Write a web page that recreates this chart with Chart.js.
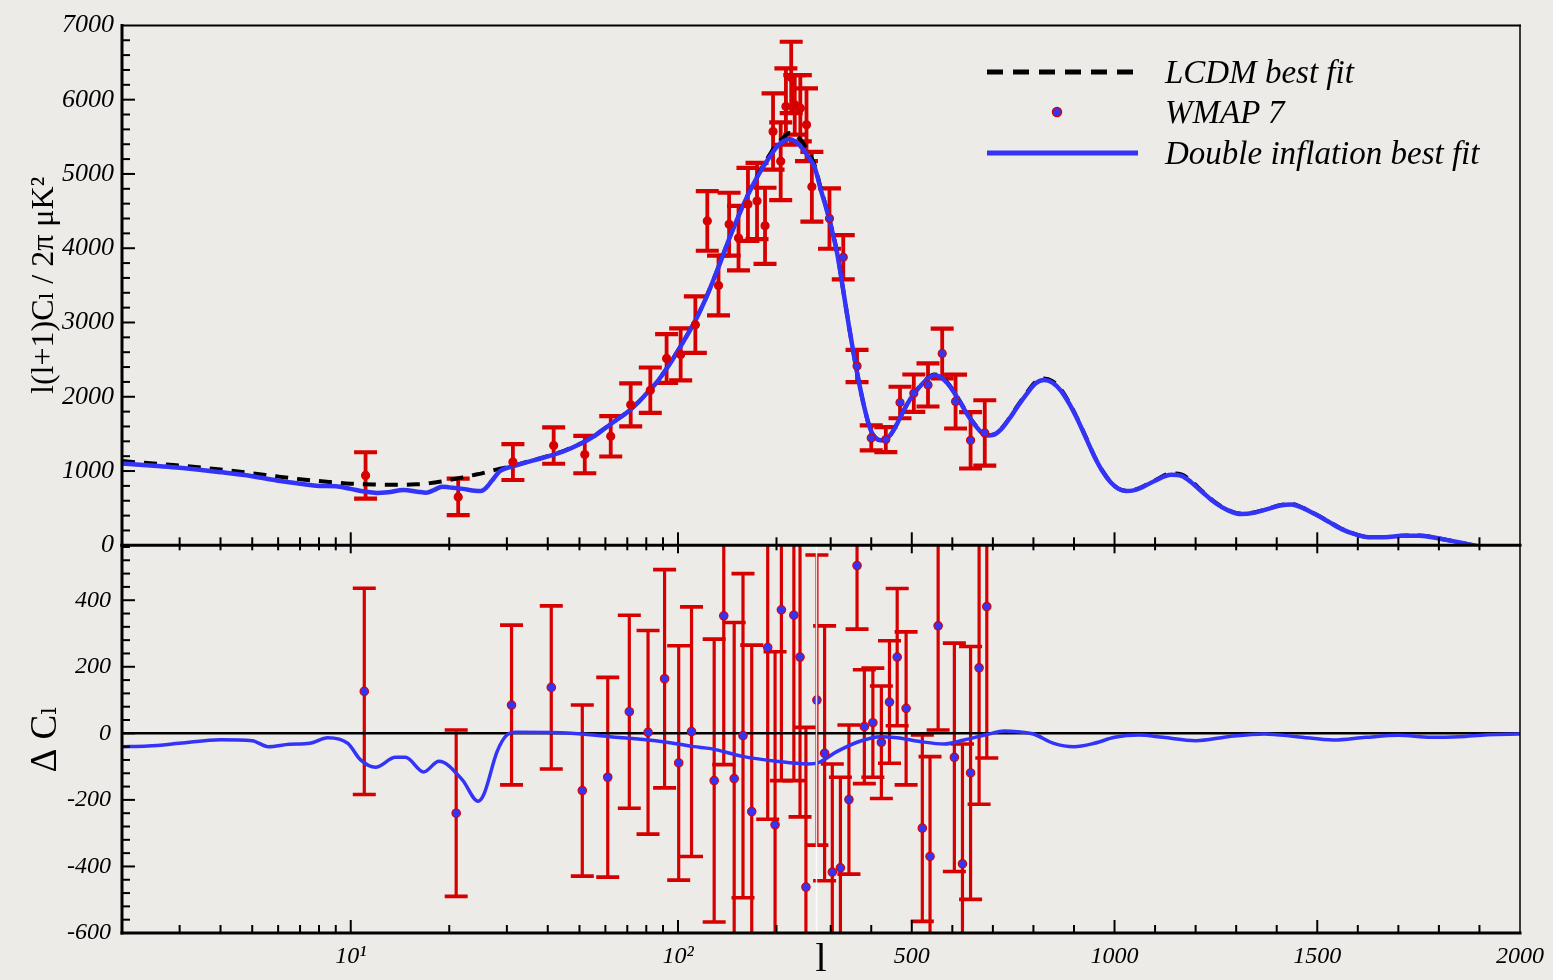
<!DOCTYPE html>
<html><head><meta charset="utf-8">
<script src="https://cdn.jsdelivr.net/npm/chart.js@4.4.1/dist/chart.umd.min.js"></script>
<style>
html,body{margin:0;padding:0;background:#ecebe7;}
#wrap{position:relative;width:1553px;height:980px;overflow:hidden;}
#c{position:absolute;left:0;top:0;}
#legend{position:absolute;left:987px;top:0;font-family:'Liberation Serif','Times New Roman',serif;font-style:italic;font-size:33px;color:#000;}
.row{position:absolute;left:0;height:40px;display:flex;align-items:center;white-space:nowrap;}
.row svg{display:block;margin-right:27px;}
</style></head>
<body><div id="wrap"><canvas id="c" width="1553" height="980"></canvas><div id="legend"></div></div>
<script>
// ---------------- axis ticks ----------------
const X_TICKS = [2,3,4,5,6,7,8,9,10,20,30,40,50,60,70,80,90,100,200,300,400,500,600,700,800,900,1000,1100,1200,1300,1400,1500,1600,1700,1800,1900,2000];
const X_LABEL_VALUES = [10,100,500,1000,1500,2000];
const X_LABEL_TEXT = ['10\u00b9','10\u00b2','500','1000','1500','2000'];
const Y_TOP_TICKS = [0,200,400,600,800,1000,1200,1400,1600,1800,2000,2200,2400,2600,2800,3000,3200,3400,3600,3800,4000,4200,4400,4600,4800,5000,5200,5400,5600,5800,6000,6200,6400,6600,6800,7000];
const Y_TOP_LABELS = [0,1000,2000,3000,4000,5000,6000,7000];
const Y_BOT_TICKS = [-600,-560,-520,-480,-440,-400,-360,-320,-280,-240,-200,-160,-120,-80,-40,0,40,80,120,160,200,240,280,320,360,400,440,480,520,560];
const Y_BOT_LABELS = [-600,-400,-200,0,200,400];

// ---------------- LCDM best fit (top panel) ----------------
const lcdmL = [2,2.5,3,4,5,6,7,8,9,10,11,12,13,14.5,16,17,18,19,20,22,24,25,26,27,28.6,31,34,37,41,45,50,55,60,65,70,75,80,86,93,100,107,114,121,128,135,142,150,159,168,179,190,200,210,219,228,236,245,253,262,275,291,305,316,329,345,356,366,382,398,410,423,435,448,465,481,500,522,540,555,570,588,605,621,637,654,670,687,703,720,740,761,785,805,826,847,868,889,909,930,950,970,991,1010,1028,1047,1066,1100,1140,1165,1189,1218,1247,1280,1313,1346,1379,1408,1436,1465,1494,1527,1560,1593,1626,1667,1708,1750,1780,1807,1845,1881,1920];
const lcdmD = [1134,1100,1075,1020,970,925,890,865,845,830,822,818,815,815,822,830,845,860,880,915,950,965,985,1005,1030,1065,1115,1160,1215,1275,1362,1462,1582,1692,1792,1912,2042,2192,2402,2622,2842,3062,3302,3562,3822,4082,4342,4605,4830,5060,5250,5400,5490,5550,5530,5470,5370,5260,5110,4820,4510,4210,3940,3500,2950,2600,2300,1880,1560,1450,1415,1430,1490,1650,1825,2000,2155,2255,2300,2280,2190,2060,1920,1770,1640,1535,1485,1495,1565,1705,1880,2065,2200,2245,2210,2100,1915,1700,1450,1205,1005,848,762,735,743,780,875,968,955,865,720,585,475,425,445,495,540,557,505,425,325,222,152,112,112,130,132,114,86,46,6,-40];

// ---------------- Double inflation best fit (top panel) ----------------
const diL = [2,2.5,3,4,5,6,7,8,9,10,11,12,13,14.5,16,17,18,19,20,22,24,25,26,27,28.6,31,34,37,41,45,50,55,60,65,70,75,80,86,93,100,107,114,121,128,135,142,150,159,168,179,190,200,210,219,228,236,245,253,262,275,291,305,316,329,345,356,366,382,398,410,423,435,448,465,481,500,522,540,555,570,588,605,621,637,654,670,687,703,720,740,761,785,805,826,847,868,889,909,930,950,970,991,1010,1028,1047,1066,1100,1140,1165,1189,1218,1247,1280,1313,1346,1379,1408,1436,1465,1494,1527,1560,1593,1626,1667,1708,1750,1780,1807,1845,1881,1920];
const diD = [1102,1070,1045,985,930,870,830,800,795,760,725,705,715,745,722,709,745,790,780,760,735,732,780,870,1000,1060,1110,1155,1210,1270,1360,1459,1580,1690,1790,1910,2040,2190,2400,2620,2840,3060,3300,3560,3820,4080,4340,4600,4820,5040,5220,5360,5440,5470,5440,5380,5290,5200,5080,4800,4500,4200,3930,3500,2950,2600,2300,1880,1560,1450,1415,1430,1490,1650,1825,2000,2150,2250,2290,2270,2180,2050,1910,1760,1630,1530,1480,1490,1560,1700,1870,2050,2180,2226,2190,2080,1900,1690,1440,1200,1000,845,760,732,740,776,870,950,935,850,710,576,470,420,440,490,535,550,500,420,320,218,150,110,110,128,130,112,84,45,4,-40];

// ---------------- WMAP 7 binned points (top panel) ----------------
const wmapL = [11.1,21.3,31.3,41.7,51.9,62.3,71.7,82.3,92.3,101.9,113,122.9,133,143.3,153.1,163.6,174.4,184.5,195.2,206,213.7,221.8,227.4,236.5,247,256.5,297,331,365,400,436,471,505,540,575,608,645,680];
const wmapD = [941,652,1120,1343,1222,1468,1891,2088,2516,2570,2971,4368,3498,4323,4136,4591,4635,4301,5572,5171,5907,6300,5930,5885,5662,4828,4400,3878,2413,1446,1423,1923,2048,2159,2583,1936,1414,1513];
const wmapErr = [312,245,241,245,252,272,290,306,328,350,381,402,402,424,435,491,513,513,513,524,514,480,400,446,490,470,407,297,217,168,168,212,252,290,335,363,380,440];

// ---------------- residuals (bottom panel) ----------------
const resL = [11,21,31,41,51,61,71,81,91,100.5,110,129,138,148.5,158,168,188,198,207,226,236,246,266,285,304,324,345,365,383,404,425,445,464,486,526,545,565,605,625,645,666,685];
const resD = [126,-240,85,138,-172,-132,65,3,164,-89,5,-142,353,-136,-7,-235,258,-275,371,355,229,-462,100,-60,-417,-404,-199,504,20,32,-27,94,229,75,-285,-370,323,-72,-392,-119,197,381];
const resErr = [310,250,240,245,257,300,290,306,328,352,375,425,447,469,487,500,516,520,513,497,480,480,436,383,325,272,224,191,171,164,169,184,206,230,280,300,313,343,360,380,410,455];

// ---------------- double inflation minus LCDM (bottom panel) ----------------
const dcL = [2,2.4,3,4,5,5.6,6.5,7.5,8.5,9.8,10.7,11.9,13.7,14.7,16.7,18.6,21.9,24.5,25.5,28,30,32,43.6,62,90,112,126,159,200,250,268,315,374,423,464,522,580,629,687,728,761,800,850,900,950,1000,1060,1120,1200,1280,1370,1450,1540,1620,1700,1780,1850,1920,2000];
const dcD = [-40,-38,-30,-19,-22,-40,-33,-30,-13,-30,-79,-102,-72,-72,-116,-84,-139,-204,-184,-55,-5,3,2,-10,-25,-40,-46,-70,-84,-92,-89,-55,-23,-10,-13,-25,-32,-20,-3,7,5,-2,-30,-40,-30,-12,-5,-12,-22,-10,-2,-10,-20,-12,-6,-12,-10,-4,-2];
const zeroL = [2,2000];
const zeroD = [0,0];

// ---------------- styles ----------------
const RED = 'rgb(214,0,0)';
const BLUE = 'rgb(52,52,248)';
const BREAK_L = 265;
const SERIF = "'Liberation Serif','Times New Roman','DejaVu Serif',serif";

// ---------------- hybrid log/linear l-axis ----------------
const L_MIN = 2, L_MAX = 2000, BREAK_FRAC = 694/1397;
class HybridLScale extends Chart.Scale {
  static id = 'hybridL';
  static defaults = {};
  determineDataLimits() { this.min = L_MIN; this.max = L_MAX; }
  buildTicks() { return X_TICKS.map(v => ({value: v, major: X_LABEL_VALUES.includes(v)})); }
  getLabelForValue(v) { return String(v); }
  _dec(v) {
    if (v <= BREAK_L) return BREAK_FRAC * Math.log(v / L_MIN) / Math.log(BREAK_L / L_MIN);
    return BREAK_FRAC + (1 - BREAK_FRAC) * (v - BREAK_L) / (L_MAX - BREAK_L);
  }
  getPixelForValue(v) { return this.getPixelForDecimal(this._dec(v)); }
  getPixelForTick(i) { const t = this.ticks[i]; return t ? this.getPixelForValue(t.value) : null; }
  getValueForPixel(p) {
    const d = this.getDecimalForPixel(p);
    if (d <= BREAK_FRAC) return L_MIN * Math.pow(BREAK_L / L_MIN, d / BREAK_FRAC);
    return BREAK_L + (d - BREAK_FRAC) / (1 - BREAK_FRAC) * (L_MAX - BREAK_L);
  }
}
Chart.register(HybridLScale);

const pts = (L, D) => L.map((l, i) => ({x: l, y: D[i]}));

// error bars drawn through the chart's scales
const errorBarPlugin = {
  id: 'errorBars',
  beforeDatasetsDraw(chart) {
    const ctx = chart.ctx, xs = chart.scales.x;
    chart.data.datasets.forEach((ds, i) => {
      if (!ds.errorBars) return;
      const meta = chart.getDatasetMeta(i);
      const ys = chart.scales[ds.yAxisID];
      const st = ds.errorStyle;
      ctx.save();
      ctx.beginPath(); ctx.rect(xs.left, ys.top, xs.right - xs.left, ys.bottom - ys.top); ctx.clip();
      ctx.strokeStyle = st.color; ctx.lineCap = 'butt';
      meta.data.forEach((p, j) => {
        const v = ds.data[j].y, e = ds.errorBars[j];
        const yH = ys.getPixelForValue(v + e), yL = ys.getPixelForValue(v - e);
        ctx.lineWidth = st.bar;
        ctx.beginPath(); ctx.moveTo(p.x, yH); ctx.lineTo(p.x, yL); ctx.stroke();
        ctx.lineWidth = st.capW;
        ctx.beginPath();
        ctx.moveTo(p.x - st.cap / 2, yH); ctx.lineTo(p.x + st.cap / 2, yH);
        ctx.moveTo(p.x - st.cap / 2, yL); ctx.lineTo(p.x + st.cap / 2, yL);
        ctx.stroke();
      });
      ctx.restore();
    });
  }
};

// panel frames and inward tick marks
const framePlugin = {
  id: 'frames',
  afterDatasetsDraw(chart) {
    const ctx = chart.ctx, xs = chart.scales.x, yt = chart.scales.yTop, yb = chart.scales.yBot;
    const L = xs.left, R = xs.right;
    const seg = (x1, y1, x2, y2, w) => { ctx.lineWidth = w; ctx.beginPath(); ctx.moveTo(x1, y1); ctx.lineTo(x2, y2); ctx.stroke(); };
    ctx.save();
    ctx.strokeStyle = '#000'; ctx.lineCap = 'square';
    const xb = xs.getPixelForValue(BREAK_L);
    ctx.strokeStyle = 'rgba(255,255,255,0.85)';
    seg(xb, yb.top + 2, xb, yb.bottom - 2, 1.5);
    ctx.strokeStyle = '#000';
    seg(L, yt.top, R, yt.top, 2);
    seg(R, yt.top, R, yt.bottom, 1.5);
    seg(L, yt.top, L, yt.bottom, 3);
    seg(L, yt.bottom, R, yt.bottom, 3);
    seg(R, yb.top, R, yb.bottom, 1.5);
    seg(L, yb.top, L, yb.bottom, 3);
    seg(L, yb.bottom, R, yb.bottom, 3);
    ctx.lineCap = 'butt';
    yt.ticks.forEach(t => {
      const y = yt.getPixelForValue(t.value);
      if (t.value === 0 || t.value === 7000) return;
      seg(L, y, L + (Y_TOP_LABELS.includes(t.value) ? 13 : 8), y, 2);
    });
    yb.ticks.forEach(t => {
      const y = yb.getPixelForValue(t.value);
      if (t.value === -600) return;
      seg(L, y, L + (Y_BOT_LABELS.includes(t.value) ? 13 : 8), y, 2);
    });
    xs.ticks.forEach(t => {
      const x = xs.getPixelForValue(t.value);
      if (x <= L + 2 || x >= R - 2) return;
      const maj = X_LABEL_VALUES.includes(t.value);
      seg(x, yt.bottom, x, yt.bottom - (maj ? 13 : 8), 2);
      seg(x, yb.top, x, yb.top + (maj ? 8 : 5), 2);
      seg(x, yb.bottom, x, yb.bottom - (maj ? 13 : 8), 2);
    });
    ctx.restore();
  }
};

const datasets = [
  {label: 'WMAP 7', legendKind: 'dot', yAxisID: 'yTop', order: 0, data: pts(wmapL, wmapD), showLine: false,
   errorBars: wmapErr, errorStyle: {color: RED, bar: 3.8, capW: 4.2, cap: 23},
   pointRadius: 4, pointBorderWidth: 1.2, pointBorderColor: RED,
   pointBackgroundColor: wmapL.map(l => l < BREAK_L ? RED : BLUE)},
  {label: 'Double inflation best fit', legendKind: 'line', yAxisID: 'yTop', order: 1, data: pts(diL, diD),
   borderColor: BLUE, borderWidth: 4.5, pointRadius: 0, cubicInterpolationMode: 'monotone'},
  {label: 'LCDM best fit', legendKind: 'dash', yAxisID: 'yTop', order: 2, data: pts(lcdmL, lcdmD),
   borderColor: '#000', borderWidth: 4, borderDash: [13, 9], pointRadius: 0, cubicInterpolationMode: 'monotone'},
  {label: 'WMAP 7 residual', yAxisID: 'yBot', order: 0, data: pts(resL, resD), showLine: false,
   errorBars: resErr, errorStyle: {color: RED, bar: 3.2, capW: 3.6, cap: 23},
   pointRadius: 4.2, pointBorderWidth: 1.2, pointBorderColor: RED, pointBackgroundColor: BLUE},
  {label: 'Double inflation \u2212 LCDM', yAxisID: 'yBot', order: 1, data: pts(dcL, dcD),
   borderColor: BLUE, borderWidth: 3.5, pointRadius: 0, cubicInterpolationMode: 'monotone'},
  {label: 'zero', yAxisID: 'yBot', order: 2, data: pts(zeroL, zeroD),
   borderColor: '#000', borderWidth: 2.5, pointRadius: 0}
];

const chart = new Chart(document.getElementById('c'), {
  type: 'line',
  data: {datasets},
  options: {
    responsive: false, animation: false, events: [],
    layout: {padding: {top: 20, right: 33, bottom: 0, left: 0}},
    plugins: {legend: {display: false}, tooltip: {enabled: false}},
    scales: {
      x: {type: 'hybridL', position: 'bottom', min: L_MIN, max: L_MAX,
          grid: {display: false, drawTicks: false}, border: {display: false},
          afterFit: s => { s.height = 47; },
          ticks: {autoSkip: false, maxRotation: 0, padding: 9, color: '#000',
                  font: {family: SERIF, style: 'italic', size: 24},
                  callback: v => { const k = X_LABEL_VALUES.indexOf(v); return k >= 0 ? X_LABEL_TEXT[k] : ''; }},
          title: {display: true, text: 'l', color: '#000', font: {family: SERIF, size: 40, lineHeight: 1}, padding: {top: 0, bottom: 0}}},
      yBot: {type: 'linear', position: 'left', stack: 'panels', stackWeight: 390, min: -600, max: 565,
          grid: {display: false, drawTicks: false}, border: {display: false},
          afterBuildTicks: s => { s.ticks = Y_BOT_TICKS.map(v => ({value: v})); },
          afterFit: s => { s.width = 122; },
          ticks: {autoSkip: false, padding: 11, color: '#000', font: {family: SERIF, style: 'italic', size: 24},
                  callback: v => Y_BOT_LABELS.includes(v) ? String(v) : ''},
          title: {display: true, text: '\u0394 C\u2097', color: '#000', font: {family: SERIF, size: 37, lineHeight: 1.1}, padding: {top: 26, bottom: 0}}},
      yTop: {type: 'linear', position: 'left', stack: 'panels', stackWeight: 523, min: 0, max: 7000,
          grid: {display: false, drawTicks: false}, border: {display: false},
          afterBuildTicks: s => { s.ticks = Y_TOP_TICKS.map(v => ({value: v})); },
          afterFit: s => { s.width = 122; },
          ticks: {autoSkip: false, padding: 8, color: '#000', font: {family: SERIF, style: 'italic', size: 26},
                  callback: v => Y_TOP_LABELS.includes(v) ? String(v) : ''},
          title: {display: true, text: 'l(l+1)C\u2097 / 2\u03c0 \u03bcK\u00b2', color: '#000', font: {family: SERIF, size: 32, lineHeight: 1.1}, padding: {top: 27, bottom: 0}}}
    }
  },
  plugins: [errorBarPlugin, framePlugin]
});

// HTML legend built from the chart's datasets
(function buildLegend() {
  const box = document.getElementById('legend');
  const rowsY = [72, 112, 153];
  const order = ['dash', 'dot', 'line'];
  order.forEach((kind, r) => {
    const ds = chart.data.datasets.find(d => d.legendKind === kind);
    const row = document.createElement('div');
    row.className = 'row';
    row.style.top = (rowsY[r] - 20) + 'px';
    let svg = '<svg width="151" height="40" viewBox="0 0 151 40">';
    if (kind === 'dash') svg += '<line x1="0" y1="20" x2="151" y2="20" stroke="#000" stroke-width="5" stroke-dasharray="16 10"/>';
    if (kind === 'dot') svg += '<circle cx="70" cy="20" r="4.5" fill="' + BLUE + '" stroke="' + RED + '" stroke-width="1.5"/>';
    if (kind === 'line') svg += '<line x1="0" y1="20" x2="151" y2="20" stroke="' + BLUE + '" stroke-width="5"/>';
    svg += '</svg>';
    row.innerHTML = svg + '<span>' + ds.label + '</span>';
    box.appendChild(row);
  });
})();
</script>
</body></html>
